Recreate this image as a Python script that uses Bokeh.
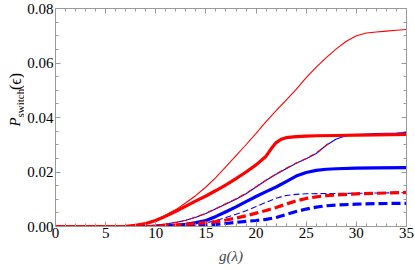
import math
from bokeh.plotting import figure
from bokeh.layouts import row
from bokeh.models import (Range1d, LinearAxis, FixedTicker, PrintfTickFormatter,
                          CustomJSTickFormatter, Label)
from bokeh.embed import file_html
from bokeh.resources import INLINE

# ---------------- data ----------------
# red, thin solid
red_thin_x = [0, 5, 7, 8, 9, 10, 11, 12, 13, 14, 15, 16, 17, 18, 19, 20, 21, 22, 23, 24,
              25, 26, 27, 28, 29, 30, 31, 32, 33, 34, 35]
red_thin_y = [0, 0, 0.0002, 0.0006, 0.0013, 0.0025, 0.0042, 0.0062, 0.0087, 0.0114, 0.0145,
              0.0180, 0.0220, 0.0260, 0.0300, 0.0342, 0.0385, 0.0425, 0.0464, 0.0503, 0.0546,
              0.0585, 0.0620, 0.0652, 0.0680, 0.0700, 0.0710, 0.0714, 0.0717, 0.0720, 0.0723]
# red, thick solid
red_thick_x = [0, 5, 7, 8, 9, 10, 11, 12, 13, 14, 15, 16, 17, 18, 19, 20, 21, 21.5, 22, 22.5,
               23, 24, 25, 26, 28, 30, 32, 35]
red_thick_y = [0, 0, 0.0001, 0.0004, 0.0011, 0.0022, 0.0038, 0.0056, 0.0075, 0.0094, 0.0112,
               0.0132, 0.0153, 0.0176, 0.0200, 0.0226, 0.0258, 0.0285, 0.0308, 0.0320, 0.0326,
               0.0330, 0.0332, 0.0333, 0.0334, 0.0335, 0.0336, 0.0338]
# red, thin dashed
red_thin_dash_x = [0, 8, 9, 10, 11, 12, 13, 14, 15, 16, 17, 18, 19, 20, 21, 22, 23, 24, 25, 26,
                   27, 27.5]
red_thin_dash_y = [0, 0, 0.0002, 0.0005, 0.0009, 0.0015, 0.0023, 0.0035, 0.0049, 0.0066, 0.0084,
                   0.0102, 0.0122, 0.0146, 0.0170, 0.0193, 0.0214, 0.0233, 0.0250, 0.0270,
                   0.0298, 0.0313]
# red, thick dashed
red_thick_dash_x = [0, 9, 10, 11, 12, 13, 14, 15, 16, 17, 18, 19, 20, 21, 22, 23, 24, 25, 26,
                    27, 28, 29, 30, 32, 35]
red_thick_dash_y = [0, 0, 0.0001, 0.0003, 0.0005, 0.0008, 0.0011, 0.0014, 0.0018, 0.0024,
                    0.0031, 0.0039, 0.0049, 0.0059, 0.0070, 0.0082, 0.0094, 0.0103, 0.0109,
                    0.0113, 0.0116, 0.0118, 0.0120, 0.0122, 0.0125]
# blue, thin solid
blue_thin_x = [0, 8, 9, 10, 11, 12, 13, 14, 15, 16, 17, 18, 19, 20, 21, 22, 23, 24, 25, 26,
               27, 28, 29, 30, 31, 32, 33, 34, 35]
blue_thin_y = [0, 0, 0.0002, 0.0005, 0.0009, 0.0015, 0.0023, 0.0034, 0.0048, 0.0065, 0.0083,
               0.0100, 0.0120, 0.0145, 0.0170, 0.0192, 0.0212, 0.0232, 0.0249, 0.0268, 0.0298,
               0.0321, 0.0333, 0.0337, 0.0339, 0.0341, 0.0342, 0.0343, 0.0345]
# blue, thick solid
blue_thick_x = [0, 10, 11, 12, 13, 14, 15, 16, 17, 18, 19, 20, 21, 22, 23, 24, 25, 26, 27, 28,
                30, 32, 35]
blue_thick_y = [0, 0, 0.0002, 0.0004, 0.0008, 0.0014, 0.0022, 0.0037, 0.0054, 0.0072, 0.0091,
                0.0110, 0.0128, 0.0145, 0.0165, 0.0185, 0.0198, 0.0206, 0.0210, 0.0212, 0.0214,
                0.0215, 0.0216]
# blue, thin dashed
blue_thin_dash_x = [0, 12, 13, 14, 15, 16, 17, 18, 19, 20, 21, 22, 23, 24, 25, 27, 30, 35]
blue_thin_dash_y = [0, 0, 0.0002, 0.0006, 0.0013, 0.0022, 0.0033, 0.0045, 0.0058, 0.0073,
                    0.0089, 0.0104, 0.0114, 0.0118, 0.0120, 0.0121, 0.0122, 0.0124]
# blue, thick dashed
blue_thick_dash_x = [0, 12, 13, 14, 15, 16, 17, 18, 19, 20, 21, 22, 23, 24, 25, 26, 27, 28, 30,
                     32, 35]
blue_thick_dash_y = [0, 0, 0.0001, 0.0003, 0.0005, 0.0008, 0.0011, 0.0015, 0.0019, 0.0022,
                     0.0026, 0.0033, 0.0044, 0.0055, 0.0064, 0.0071, 0.0076, 0.0079, 0.0082,
                     0.0084, 0.0085]

x_ticks = [0, 5, 10, 15, 20, 25, 30, 35]
x_minor = list(range(0, 36))
y_ticks = [0.0, 0.02, 0.04, 0.06, 0.08]
y_minor = [i * 0.005 for i in range(17)]

x_title = "g(λ)"
y_title_parts = ["P", "switch", "(ϵ)"]

RED = "#ff0000"
BLUE = "#0000ff"
AXIS_COL = "#999999"
FONT = "Liberation Serif"

# ---------------- main plot ----------------
p = figure(width=391, height=270, x_range=Range1d(0, 35), y_range=Range1d(0, 0.08),
           output_backend="svg", toolbar_location=None,
           min_border_left=28, min_border_right=9, min_border_top=8, min_border_bottom=44)
p.xgrid.visible = False
p.ygrid.visible = False
p.outline_line_color = None
p.background_fill_color = "white"
p.border_fill_color = "white"

bottom_axis = p.below[0]
left_axis = p.left[0]
top_axis = LinearAxis()
right_axis = LinearAxis()
p.add_layout(top_axis, "above")
p.add_layout(right_axis, "right")

def style(ax, ticks, minor, labels):
    ax.ticker = FixedTicker(ticks=ticks, minor_ticks=minor)
    ax.axis_line_color = AXIS_COL
    ax.major_tick_line_color = AXIS_COL
    ax.minor_tick_line_color = AXIS_COL
    ax.major_tick_in = 5
    ax.major_tick_out = 0
    ax.minor_tick_in = 3
    ax.minor_tick_out = 0
    ax.major_label_text_font = FONT
    ax.major_label_text_font_size = "15px"
    ax.major_label_text_color = "black"
    if not labels:
        ax.formatter = CustomJSTickFormatter(code="return ''")
        ax.major_label_standoff = 0

style(bottom_axis, x_ticks, x_minor, True)
style(top_axis, x_ticks, x_minor, False)
style(left_axis, y_ticks, y_minor, True)
style(right_axis, y_ticks, y_minor, False)

bottom_axis.major_label_standoff = 1
left_axis.major_label_standoff = 2
left_axis.formatter = PrintfTickFormatter(format="%.2f")

bottom_axis.axis_label = x_title
bottom_axis.axis_label_text_font = FONT
bottom_axis.axis_label_text_font_style = "italic"
bottom_axis.axis_label_text_font_size = "15px"
bottom_axis.axis_label_standoff = 7

THIN = 1.1
THICK = 3.2
# blue series first
p.line(blue_thick_x, blue_thick_y, line_color=BLUE, line_width=THICK)
p.line(blue_thin_x, blue_thin_y, line_color=BLUE, line_width=THIN)
p.line(blue_thin_dash_x, blue_thin_dash_y, line_color=BLUE, line_width=THIN, line_dash="6 3")
p.line(blue_thick_dash_x, blue_thick_dash_y, line_color=BLUE, line_width=THICK, line_dash="9 4")
# red series
p.line(red_thick_x, red_thick_y, line_color=RED, line_width=THICK)
p.line(red_thin_x, red_thin_y, line_color=RED, line_width=THIN)
p.line(red_thick_dash_x, red_thick_dash_y, line_color=RED, line_width=THICK, line_dash="9 4")
p.line(red_thin_dash_x, red_thin_dash_y, line_color=RED, line_width=THIN, line_dash="6 3")

# ---------------- narrow strip holding the y-axis title P_switch(ϵ) ----------------
# strip coordinates are pixels: x from the left, y from the bottom of the 270 px strip
t = figure(width=24, height=270, x_range=Range1d(0, 24), y_range=Range1d(0, 270),
           output_backend="svg", toolbar_location=None, min_border=0,
           x_axis_type=None, y_axis_type=None)
t.xgrid.visible = False
t.ygrid.visible = False
t.outline_line_color = None
t.background_fill_color = "white"
t.border_fill_color = "white"

ang = math.pi / 2
t.add_layout(Label(x=6.5, y=124, text=y_title_parts[0], angle=ang, text_font=FONT,
                   text_font_style="italic", text_font_size="15px", text_color="black",
                   text_baseline="top"))
t.add_layout(Label(x=13, y=135, text=y_title_parts[1], angle=ang, text_font=FONT,
                   text_font_size="11px", text_color="black", text_baseline="top"))
t.add_layout(Label(x=6, y=169, text=y_title_parts[2], angle=ang, text_font=FONT,
                   text_font_size="16px", text_color="black", text_baseline="top"))

layout = row(t, p)
open("out.html", "w").write(file_html(layout, INLINE))
